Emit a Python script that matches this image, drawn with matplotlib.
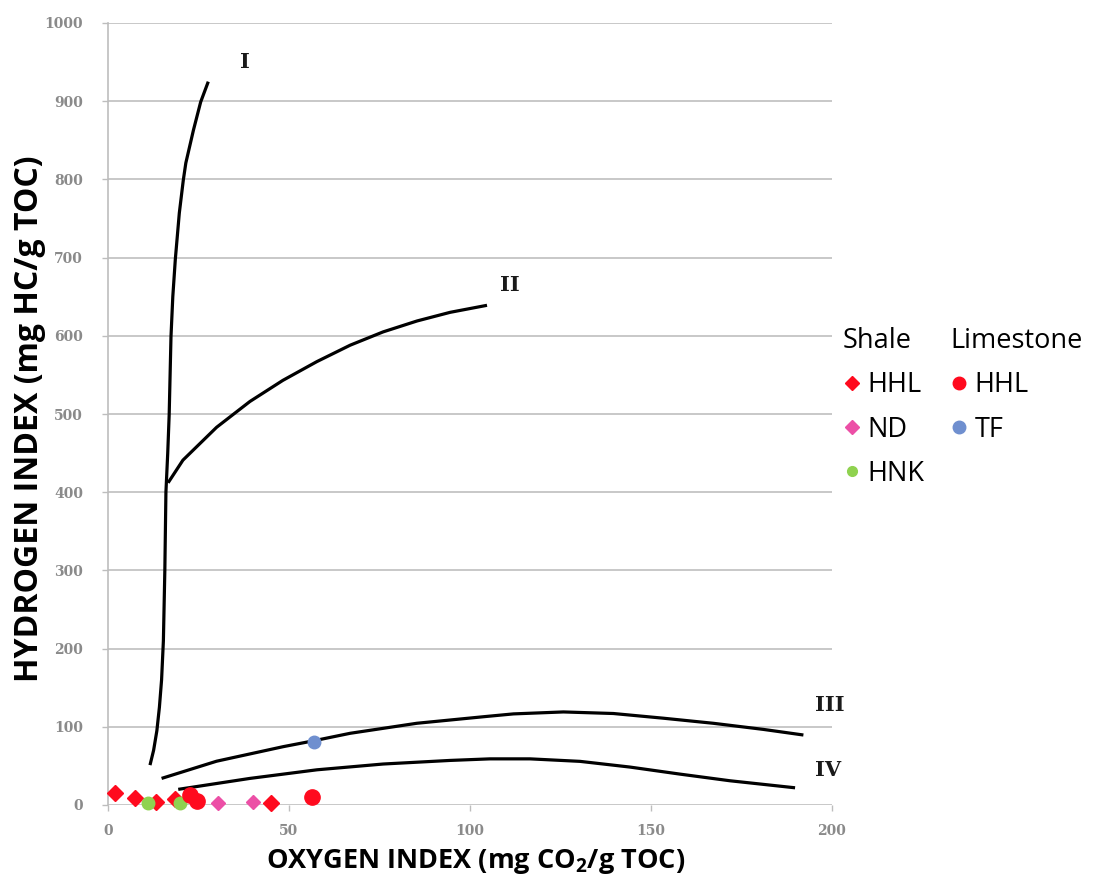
import matplotlib
matplotlib.use("Agg")
import matplotlib.pyplot as plt
from matplotlib.lines import Line2D

# ---- data ----
type_i_x = [11.6, 12.6, 13.5, 14.2, 14.8, 15.3, 15.7, 16.0, 16.5, 16.9, 17.4, 17.9, 18.6, 19.7, 20.8, 21.5, 23.6, 25.6, 27.7]
type_i_y = [51, 70, 95, 125, 160, 210, 300, 400, 450, 499, 599, 650, 698, 757, 799, 821, 863, 899, 925]

type_ii_x = [16.6, 20.7, 30.0, 39.2, 48.3, 57.7, 66.9, 76.0, 85.4, 94.5, 104.7]
type_ii_y = [412, 441, 483, 516, 543, 567, 588, 605, 619, 630, 639]

type_iii_x = [14.8, 30.0, 48.4, 56.7, 66.9, 85.3, 104.0, 112.0, 125.8, 139.6, 153.4, 167.2, 181.0, 192.1]
type_iii_y = [34, 56, 74.6, 82, 91.7, 104.5, 113, 116.5, 119, 117, 111, 104.5, 96.7, 89.5]

type_iv_x = [19.4, 39.2, 57.7, 76.0, 94.5, 105.5, 116.6, 130.4, 144.2, 158.0, 171.8, 189.8]
type_iv_y = [20, 34, 45, 52.4, 57, 59, 59, 55.8, 48.5, 39.5, 31, 22]

shale_hhl_x = [2.0, 7.5, 13.3, 18.5, 45.0]
shale_hhl_y = [15, 9, 4, 8, 3]
shale_nd_x = [30.5, 40.0]
shale_nd_y = [2, 4]
shale_hnk_x = [11.0, 19.8]
shale_hnk_y = [2, 3]
lime_hhl_x = [22.7, 24.6, 56.3]
lime_hhl_y = [13, 5, 10]
lime_tf_x = [57.0]
lime_tf_y = [80]

curve_labels = ["I", "II", "III", "IV"]
label_x = [37.8, 111.0, 199.4, 198.9]
label_y = [950, 665, 128, 45]

x_ticks = [0, 50, 100, 150, 200]
y_ticks = list(range(0, 1001, 100))

# ---- figure ----
fig = plt.figure(figsize=(10.97, 8.83), dpi=100)
ax = fig.add_axes([108 / 1097, 1 - 805 / 883, (832 - 108) / 1097, (805 - 23) / 883])

ax.set_xlim(0, 200)
ax.set_ylim(0, 1000)
ax.set_xticks(x_ticks)
ax.set_yticks(y_ticks)

ax.grid(axis="y", color="#c4c4c4", linewidth=1.3)
ax.set_axisbelow(True)
for s in ["top", "right", "bottom"]:
    ax.spines[s].set_visible(False)
ax.spines["left"].set_color("#bdbdbd")
ax.spines["left"].set_linewidth(1.2)

ax.tick_params(axis="both", colors="#bdbdbd", length=4, width=1, labelcolor="#8a8a8a")
ax.tick_params(axis="y", pad=14)
ax.tick_params(axis="x", pad=10)
for lab in ax.get_xticklabels() + ax.get_yticklabels():
    lab.set_fontfamily("DejaVu Serif")
    lab.set_fontsize(10)
    lab.set_fontweight("bold")

# curves
for xs, ys in [(type_i_x, type_i_y), (type_ii_x, type_ii_y),
               (type_iii_x, type_iii_y), (type_iv_x, type_iv_y)]:
    ax.plot(xs, ys, color="black", linewidth=2.3, solid_capstyle="butt",
            solid_joinstyle="round", zorder=3)

for t, lx, ly in zip(curve_labels, label_x, label_y):
    ax.text(lx, ly, t, fontsize=15, fontweight="bold", family="DejaVu Serif",
            ha="center", va="center", color="#1a1a1a")

# data points
red = "#ff0a1e"
pink = "#ec4fa6"
green = "#8fd24f"
blue = "#6f8fcf"
ax.plot(shale_hhl_x, shale_hhl_y, "D", color=red, markersize=8, linestyle="none", zorder=4, clip_on=False)
ax.plot(shale_nd_x, shale_nd_y, "D", color=pink, markersize=7, linestyle="none", zorder=4, clip_on=False)
ax.plot(shale_hnk_x, shale_hnk_y, "o", color=green, markersize=9, linestyle="none", zorder=4, clip_on=False)
ax.plot(lime_hhl_x, lime_hhl_y, "o", color=red, markersize=11, linestyle="none", zorder=5, clip_on=False)
ax.plot(lime_tf_x, lime_tf_y, "o", color=blue, markersize=9, linestyle="none", zorder=5, clip_on=False)

# axis labels
lab_family = ["Open Sans", "DejaVu Sans"]
fig.text(476 / 1097, 1 - 861 / 883, "OXYGEN INDEX (mg CO$_\\mathregular{2}$/g TOC)",
         ha="center", va="center", fontsize=19.5, fontweight="bold", family=lab_family)
fig.text(30 / 1097, 1 - 419 / 883, "HYDROGEN INDEX (mg HC/g TOC)", rotation=90,
         ha="center", va="center", fontsize=23, fontweight="bold", family=lab_family)

# legends
leg_font = {"family": ["Open Sans", "DejaVu Sans"], "size": 19.5}
mk = dict(linestyle="none")
shale_handles = [Line2D([], [], marker="D", color=red, markersize=7.5, **mk),
                 Line2D([], [], marker="D", color=pink, markersize=7.5, **mk),
                 Line2D([], [], marker="o", color=green, markersize=7, **mk)]
lime_handles = [Line2D([], [], marker="o", color=red, markersize=9, **mk),
                Line2D([], [], marker="o", color=blue, markersize=9, **mk)]
common = dict(frameon=False, loc="upper left", prop=leg_font, title_fontproperties=leg_font,
              alignment="left", handlelength=0.7, handletextpad=0.2, labelspacing=0.6,
              borderpad=0, borderaxespad=0)
leg1 = fig.legend(shale_handles, ["HHL", "ND", "HNK"], title="Shale",
                  bbox_to_anchor=(843 / 1097, 1 - 327 / 883), **common)
leg2 = fig.legend(lime_handles, ["HHL", "TF"], title="Limestone",
                  bbox_to_anchor=(950 / 1097, 1 - 327 / 883), **common)

fig.savefig("out.png", dpi=100, facecolor="white")
